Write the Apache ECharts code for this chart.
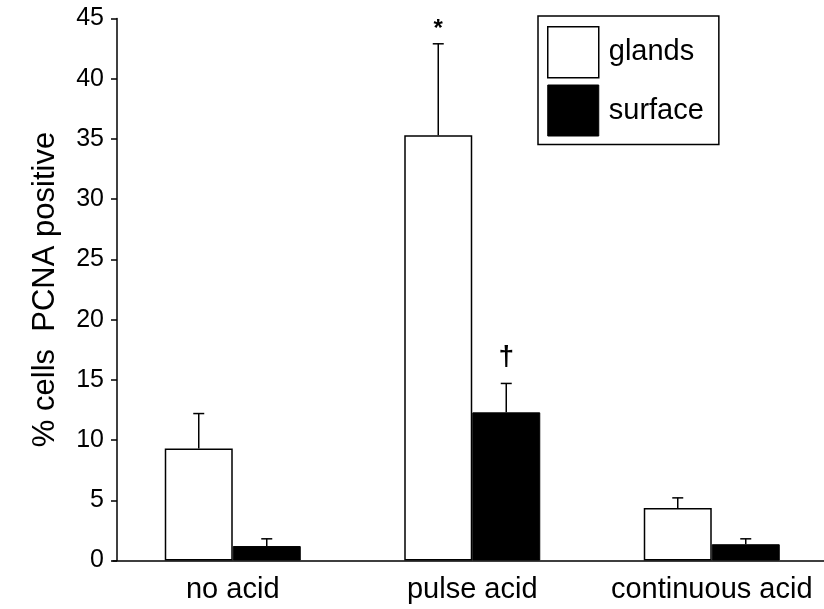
<!DOCTYPE html>
<html>
<head>
<meta charset="utf-8">
<script src="https://cdn.jsdelivr.net/npm/echarts@6/dist/echarts.min.js"></script>
<style>html,body{margin:0;padding:0;background:#fff;}#c{width:824px;height:609px;}</style>
</head>
<body>
<div id="c"></div>
<script>
var categories = ['no acid', 'pulse acid', 'continuous acid'];
var glands = [9.3, 35.3, 4.35];
var glandsErr = [12.2, 42.9, 5.2];
var surface = [1.2, 12.3, 1.35];
var surfaceErr = [1.8, 14.7, 1.8];
var glandsMarks = ['', '*', ''];
var surfaceMarks = ['', '\u2020', ''];
var yTicks = [0, 5, 10, 15, 20, 25, 30, 35, 40, 45];

var BAR_W = 68;
var FONT = '"Liberation Sans", Arial, Helvetica, sans-serif';

function makeErr(name, vals, errs, marks, offset, markSize, markGap) {
  return {
    type: 'custom',
    name: name + '_err',
    silent: true,
    z: 5,
    data: vals.map(function (v, i) { return [i, v, errs[i]]; }),
    encode: { x: 0, y: 2 },
    renderItem: function (params, api) {
      var i = api.value(0);
      var base = api.coord([i, api.value(1)]);
      var top = api.coord([i, api.value(2)]);
      var x = base[0] + offset;
      var children = [
        { type: 'line', shape: { x1: x, y1: base[1], x2: x, y2: top[1] }, style: { stroke: '#000', lineWidth: 1.5 } },
        { type: 'line', shape: { x1: x - 5.5, y1: top[1], x2: x + 5.5, y2: top[1] }, style: { stroke: '#000', lineWidth: 1.5 } }
      ];
      var txt = marks[params.dataIndex];
      if (txt) {
        children.push({
          type: 'text',
          style: { text: txt, x: x, y: top[1] - markGap, align: 'center', verticalAlign: 'middle',
                   fontSize: markSize, fontWeight: 'bold', fontFamily: FONT, fill: '#000' }
        });
      }
      return { type: 'group', children: children };
    }
  };
}

var chart = echarts.init(document.getElementById('c'));
chart.setOption({
  animation: false,
  backgroundColor: '#fff',
  grid: { left: 113, right: -7.5, top: 18.5, bottom: 48.5, containLabel: false, outerBoundsMode: 'none' },
  legend: {
    orient: 'vertical',
    left: 538, top: 16,
    padding: [10, 15, 8, 9],
    itemWidth: 51, itemHeight: 51, itemGap: 6,
    borderColor: '#000', borderWidth: 1.5,
    selectedMode: false,
    data: [
      { name: 'glands', icon: 'rect', itemStyle: { color: '#fff', borderColor: '#000', borderWidth: 1.5 } },
      { name: 'surface', icon: 'rect', itemStyle: { color: '#000', borderColor: '#000', borderWidth: 1 } }
    ],
    textStyle: { fontSize: 29, color: '#000', fontFamily: FONT, padding: [0, 0, 0, 5] }
  },
  xAxis: {
    type: 'category',
    data: categories,
    axisLine: { lineStyle: { color: '#000', width: 1.5 } },
    axisTick: { show: false },
    axisLabel: { color: '#000', fontSize: 29, fontFamily: FONT, margin: 15, interval: 0 }
  },
  yAxis: {
    type: 'value',
    min: 0, max: 45, interval: 5,
    offset: -4,
    name: '% cells  PCNA positive',
    nameLocation: 'middle',
    nameGap: 56,
    nameTextStyle: { fontSize: 31, color: '#000', fontFamily: FONT },
    axisLine: { show: true, lineStyle: { color: '#000', width: 1.5 } },
    axisTick: { show: true, length: 6, lineStyle: { color: '#000', width: 1.5 } },
    splitLine: { show: false },
    axisLabel: {
      color: '#000', fontSize: 25, fontFamily: FONT, margin: 13,
      formatter: function (v) { return yTicks.indexOf(v) >= 0 ? String(v) : ''; }
    }
  },
  series: [
    { type: 'bar', name: 'glands', data: glands, barWidth: BAR_W, barGap: '0%',
      itemStyle: { color: '#fff', borderColor: '#000', borderWidth: 1.5 } },
    { type: 'bar', name: 'surface', data: surface, barWidth: BAR_W, barGap: '0%',
      itemStyle: { color: '#000', borderColor: '#000', borderWidth: 1 } },
    makeErr('glands', glands, glandsErr, glandsMarks, -BAR_W / 2, 24, 14),
    makeErr('surface', surface, surfaceErr, surfaceMarks, BAR_W / 2, 28, 26)
  ]
});
</script>
</body>
</html>
